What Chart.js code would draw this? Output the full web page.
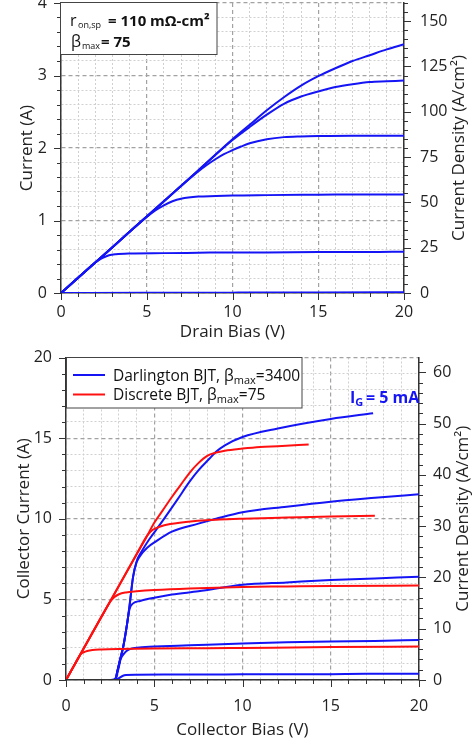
<!DOCTYPE html>
<html><head><meta charset="utf-8">
<script src="https://cdn.jsdelivr.net/npm/chart.js@4.4.1/dist/chart.umd.min.js"></script>
<style>
html,body{margin:0;padding:0;background:#fff;}
#wrap{position:relative;width:475px;height:742px;overflow:hidden;background:#fff;}
.c{position:absolute;left:0;}
canvas{display:block;}
</style></head><body>
<div id="wrap">
<div class="c" style="top:0;width:475px;height:345px"><canvas id="topChart" width="475" height="345" style="width:475px;height:345px"></canvas></div>
<div class="c" style="top:345px;width:475px;height:397px"><canvas id="botChart" width="475" height="397" style="width:475px;height:397px"></canvas></div>
</div>
<script>
// ---------------- DATA: top chart (Current vs Drain Bias) ----------------
const topXMajor  = [0, 5, 10, 15, 20];
const topYMajor  = [0, 1, 2, 3, 4];
const topY2Major = [0, 25, 50, 75, 100, 125, 150];

const drainV0 = [0, 5, 10, 15, 20];
const drainI0 = [0, 0.003, 0.005, 0.008, 0.012];
const drainV1 = [0, 1, 2, 2.4, 2.8, 3.2, 4, 6, 8, 10, 12, 15, 18, 20];
const drainI1 = [0, 0.21, 0.42, 0.48, 0.52, 0.535, 0.545, 0.55, 0.555, 0.56, 0.56, 0.565, 0.565, 0.57];
const drainV2 = [0, 1, 2, 3, 4, 5, 5.5, 6, 6.5, 7, 8, 10, 12, 15, 18, 20];
const drainI2 = [0, 0.21, 0.42, 0.63, 0.845, 1.05, 1.14, 1.21, 1.265, 1.30, 1.33, 1.345, 1.35, 1.355, 1.36, 1.36];
const drainV3 = [0, 2, 4, 6, 7, 8, 8.5, 9, 9.5, 10, 10.5, 11, 12, 13, 14, 15, 17, 20];
const drainI3 = [0, 0.42, 0.845, 1.265, 1.475, 1.675, 1.765, 1.845, 1.915, 1.97, 2.02, 2.065, 2.12, 2.15, 2.16, 2.165, 2.17, 2.17];
const drainV45 = [0, 2, 4, 6, 8, 10, 11, 12, 13, 14, 15, 16, 17, 18, 19, 20];
const drainI4 = [0, 0.42, 0.845, 1.265, 1.69, 2.11, 2.29, 2.46, 2.61, 2.71, 2.78, 2.84, 2.88, 2.91, 2.92, 2.93];
const drainI5 = [0, 0.42, 0.845, 1.265, 1.69, 2.12, 2.32, 2.52, 2.70, 2.86, 2.99, 3.10, 3.20, 3.28, 3.36, 3.43];

// ---------------- DATA: bottom chart (Collector Current vs Collector Bias) ----------------
const botXMajor  = [0, 5, 10, 15, 20];
const botYMajor  = [0, 5, 10, 15, 20];
const botY2Major = [0, 10, 20, 30, 40, 50, 60];

// Darlington BJT (blue)
const darlV0 = [0, 20];
const darlI0 = [0, 0];
const darlV1 = [0, 2.5, 2.8, 3.0, 3.2, 3.4, 4, 6, 10, 15, 17, 20];
const darlI1 = [0, 0, 0.03, 0.12, 0.25, 0.31, 0.33, 0.34, 0.35, 0.36, 0.38, 0.38];
const darlV2 = [0, 2.6, 2.8, 2.95, 3.1, 3.3, 3.5, 3.8, 4.5, 5, 7, 10, 12.5, 15, 17.5, 20];
const darlI2 = [0, 0, 0.1, 0.6, 1.3, 1.65, 1.85, 1.97, 2.04, 2.07, 2.15, 2.27, 2.34, 2.39, 2.42, 2.48];
const darlV3 = [0, 2.8, 2.9, 3.05, 3.25, 3.45, 3.6, 3.8, 4.2, 5, 6, 7.5, 10, 12.5, 15, 17.5, 20];
const darlI3 = [0, 0, 0.5, 1.2, 2.1, 3.4, 4.4, 4.75, 4.9, 5.1, 5.3, 5.5, 5.9, 6.05, 6.2, 6.3, 6.4];
const darlV4 = [0, 2.8, 2.9, 3.05, 3.25, 3.45, 3.6, 3.8, 4.0, 4.2, 4.6, 5.1, 6, 7.5, 8.5, 10, 12.5, 15, 17.5, 20];
const darlI4 = [0, 0, 0.5, 1.2, 2.1, 3.4, 4.6, 6.4, 7.3, 7.7, 8.2, 8.6, 9.2, 9.7, 10.0, 10.4, 10.75, 11.06, 11.3, 11.52];
const darlV5 = [0, 2.8, 2.9, 3.05, 3.25, 3.45, 3.6, 3.8, 4.0, 4.3, 4.7, 5.3, 6.3, 7, 7.5, 8.15, 8.5, 9, 10, 12, 15, 17.4];
const darlI5 = [0, 0, 0.5, 1.2, 2.1, 3.4, 4.6, 6.4, 7.35, 8.0, 8.7, 9.6, 11.17, 12.3, 13.0, 13.75, 14.15, 14.55, 15.07, 15.6, 16.19, 16.54];

// Discrete BJT (red)
const discV0 = [0, 20];
const discI0 = [0, 0];
const discV2 = [0, 0.5, 0.85, 1.0, 1.2, 1.5, 2, 3, 5, 8, 10, 15, 20];
const discI2 = [0, 0.98, 1.62, 1.72, 1.8, 1.86, 1.89, 1.92, 1.95, 1.97, 1.99, 2.04, 2.08];
const discV3 = [0, 1, 2, 2.5, 2.75, 3.0, 3.4, 4, 5, 7, 10, 12.5, 15, 20];
const discI3 = [0, 1.95, 3.9, 4.85, 5.15, 5.32, 5.43, 5.5, 5.58, 5.68, 5.77, 5.8, 5.83, 5.86];
const discV4 = [0, 1, 2, 3, 4, 4.6, 4.9, 5.3, 5.9, 7.2, 8.7, 10, 12.5, 15, 17.5];
const discI4 = [0, 1.95, 3.9, 5.85, 7.8, 8.95, 9.3, 9.5, 9.67, 9.85, 9.95, 10.0, 10.07, 10.14, 10.19];
const discV5 = [0, 1, 2, 3, 4, 4.5, 5.0, 5.5, 6, 6.5, 7, 7.5, 8, 8.5, 9, 10, 11, 12, 13.75];
const discI5 = [0, 1.95, 3.9, 5.85, 7.8, 8.75, 9.75, 10.55, 11.35, 12.1, 12.85, 13.45, 13.9, 14.1, 14.22, 14.35, 14.45, 14.5, 14.6];

// ---------------- helpers ----------------
const FONT = '"Open Sans", "DejaVu Sans", sans-serif';
Chart.defaults.font.family = FONT;
Chart.defaults.font.size = 16;
Chart.defaults.color = '#222';
const BLUE = '#1414f5', RED = '#ff1010';

function near(v, list) { return list.some(m => Math.abs(m - v) < 1e-6); }
function pts(xs, ys) { return xs.map((x, i) => ({ x: x, y: ys[i] })); }
function series(label, xs, ys, color) {
  return { label: label, data: pts(xs, ys), borderColor: color, backgroundColor: color,
    borderWidth: 2, pointRadius: 0, fill: false, cubicInterpolationMode: 'monotone' };
}
function fix(size, horiz) {
  return function (s) {
    if (horiz) s.height = size; else s.width = size;
    s.paddingTop = 0; s.paddingBottom = 0; s.paddingLeft = 0; s.paddingRight = 0;
  };
}
function axis(o) {
  const horiz = o.pos === 'bottom';
  return {
    type: 'linear', position: o.pos, min: o.min, max: o.max,
    afterFit: fix(o.size, horiz),
    ticks: { stepSize: o.step, autoSkip: false, maxRotation: 0, minRotation: 0, includeBounds: false,
      padding: o.pad, font: { size: 16 }, color: '#222',
      callback: function (v) { return near(v, o.majors) ? String(Math.round(v)) : ''; } },
    grid: { display: true, drawOnChartArea: o.grid, drawTicks: false,
      color: function (c) { return c.tick && near(c.tick.value, o.majors) ? '#a2a2a2' : '#d0d0d0'; },
      lineWidth: function (c) { return c.tick && near(c.tick.value, o.majors) ? 1.2 : 1; } },
    border: { display: true, color: '#333', width: 1.5, z: o.borderZ || 0,
      dash: function (c) { return c.tick ? (near(c.tick.value, o.majors) ? [4, 3] : [2, 2]) : []; } },
    title: o.title ? { display: true, text: o.title, font: { size: 17 }, color: '#222', padding: o.titlePad } : { display: false }
  };
}
function runs(ctx, x, y, parts) {
  for (const p of parts) {
    if (p.x !== undefined) x = p.x;
    ctx.font = (p.bold ? 'bold ' : '') + p.size + 'px ' + FONT;
    ctx.fillStyle = p.color || '#111';
    ctx.fillText(p.t, x, y + (p.dy || 0));
    x += ctx.measureText(p.t).width;
  }
}
function decoPlugin(cfg) {
  return {
    id: 'deco_' + cfg.name,
    afterDraw: function (chart) {
      const ctx = chart.ctx, a = chart.chartArea;
      ctx.save();
      ctx.strokeStyle = '#333'; ctx.lineWidth = 1;
      for (const t of cfg.ticks) {
        const s = chart.scales[t.id];
        const n = Math.round((s.max - s.min) / t.minor);
        for (let i = 0; i <= n; i++) {
          const v = s.min + i * t.minor;
          if (v > s.max + 1e-9) break;
          const maj = Math.abs(v / t.major - Math.round(v / t.major)) < 1e-6;
          const L = maj ? 7 : 4;
          const p = Math.round(s.getPixelForValue(v)) + 0.5;
          ctx.beginPath();
          if (t.id === 'x') { ctx.moveTo(p, a.bottom); ctx.lineTo(p, a.bottom + L); }
          else if (t.id === 'y') { ctx.moveTo(a.left, p); ctx.lineTo(a.left - L, p); }
          else { ctx.moveTo(a.right, p); ctx.lineTo(a.right + L, p); }
          ctx.stroke();
        }
      }
      // right-hand axis title (reads bottom to top)
      ctx.save();
      ctx.translate(cfg.rtX, (a.top + a.bottom) / 2);
      ctx.rotate(-Math.PI / 2);
      ctx.font = '17px ' + FONT; ctx.fillStyle = '#222';
      ctx.textAlign = 'center'; ctx.textBaseline = 'middle';
      ctx.fillText('Current Density (A/cm²)', 0, 0);
      ctx.restore();
      ctx.textAlign = 'left'; ctx.textBaseline = 'alphabetic';
      cfg.extra(ctx, a);
      ctx.restore();
    }
  };
}

// ---------------- top chart ----------------
new Chart(document.getElementById('topChart'), {
  type: 'line',
  data: { datasets: [
    series('I0', drainV0, drainI0, BLUE),
    series('I1', drainV1, drainI1, BLUE),
    series('I2', drainV2, drainI2, BLUE),
    series('I3', drainV3, drainI3, BLUE),
    series('I4', drainV45, drainI4, BLUE),
    series('I5', drainV45, drainI5, BLUE)
  ] },
  options: {
    responsive: false, animation: false, events: [], devicePixelRatio: 1,
    layout: { padding: { top: 3, left: 0, right: 0, bottom: 0 } },
    plugins: { legend: { display: false }, tooltip: { enabled: false } },
    scales: {
      x: axis({ pos: 'bottom', min: 0, max: 20, step: 1, majors: topXMajor, size: 52, pad: 10, grid: true,
        title: 'Drain Bias (V)', titlePad: { top: 0, bottom: 3 } }),
      y: axis({ pos: 'left', min: 0, max: 4, step: 0.2, majors: topYMajor, size: 61, pad: 14, grid: true,
        title: 'Current (A)', titlePad: { top: 16.5, bottom: 0 } }),
      y2: axis({ pos: 'right', min: 0, max: 160, step: 25, majors: topY2Major, size: 71, pad: 16, grid: false })
    }
  },
  plugins: [decoPlugin({
    name: 'top', rtX: 459,
    ticks: [{ id: 'x', minor: 1, major: 5 }, { id: 'y', minor: 0.2, major: 1 }, { id: 'y2', minor: 5, major: 25 }],
    extra: function (ctx, a) {
      ctx.fillStyle = '#fff'; ctx.fillRect(60.5, 2.5, 156.5, 52);
      ctx.strokeStyle = '#444'; ctx.lineWidth = 1; ctx.strokeRect(60.5, 2.5, 156.5, 52);
      runs(ctx, 70, 26, [{ t: 'r', size: 16 }, { t: 'on,sp', size: 9, dy: 1.5, x: 78 }, { t: '= 110 mΩ-cm²', size: 15, bold: true, x: 108 }]);
      runs(ctx, 71, 47, [{ t: 'β', size: 16 }, { t: 'max', size: 9, dy: 1.5, x: 82 }, { t: '= 75', size: 15, bold: true, x: 101 }]);
    }
  })]
});

// ---------------- bottom chart ----------------
new Chart(document.getElementById('botChart'), {
  type: 'line',
  data: { datasets: [
    series('Discrete 0', discV0, discI0, RED),
    series('Discrete 2', discV2, discI2, RED),
    series('Discrete 3', discV3, discI3, RED),
    series('Discrete 4', discV4, discI4, RED),
    series('Discrete 5', discV5, discI5, RED),
    series('Darlington 0', darlV0, darlI0, BLUE),
    series('Darlington 1', darlV1, darlI1, BLUE),
    series('Darlington 2', darlV2, darlI2, BLUE),
    series('Darlington 3', darlV3, darlI3, BLUE),
    series('Darlington 4', darlV4, darlI4, BLUE),
    series('Darlington 5', darlV5, darlI5, BLUE)
  ] },
  options: {
    responsive: false, animation: false, events: [], devicePixelRatio: 1,
    layout: { padding: { top: 12.5, left: 0, right: 0, bottom: 0 } },
    plugins: { legend: { display: false }, tooltip: { enabled: false } },
    scales: {
      x: axis({ pos: 'bottom', min: 0, max: 20, step: 1, majors: botXMajor, size: 62, pad: 17, grid: true, borderZ: 1,
        title: 'Collector Bias (V)', titlePad: { top: 0, bottom: 1.5 } }),
      y: axis({ pos: 'left', min: 0, max: 20, step: 1, majors: botYMajor, size: 66, pad: 14, grid: true,
        title: 'Collector Current (A)', titlePad: { top: 14, bottom: 0 } }),
      y2: axis({ pos: 'right', min: 0, max: 62.9, step: 10, majors: botY2Major, size: 56, pad: 14, grid: false })
    }
  },
  plugins: [decoPlugin({
    name: 'bot', rtX: 463,
    ticks: [{ id: 'x', minor: 1, major: 5 }, { id: 'y', minor: 1, major: 5 }, { id: 'y2', minor: 2, major: 10 }],
    extra: function (ctx, a) {
      ctx.fillStyle = '#fff'; ctx.fillRect(66, 12.5, 236, 50.5);
      ctx.strokeStyle = '#444'; ctx.lineWidth = 1; ctx.strokeRect(66.5, 12.5, 235.5, 50.5);
      ctx.lineWidth = 2;
      ctx.strokeStyle = BLUE; ctx.beginPath(); ctx.moveTo(73, 30); ctx.lineTo(105, 30); ctx.stroke();
      ctx.strokeStyle = RED; ctx.beginPath(); ctx.moveTo(73, 49.5); ctx.lineTo(105, 49.5); ctx.stroke();
      runs(ctx, 113, 35.5, [{ t: 'Darlington BJT, β', size: 15.5 }, { t: 'max', size: 11, dy: 3 }, { t: '=3400', size: 15.5 }]);
      runs(ctx, 113, 55, [{ t: 'Discrete BJT, β', size: 15.5 }, { t: 'max', size: 11, dy: 3 }, { t: '=75', size: 15.5 }]);
      runs(ctx, 350, 57.5, [{ t: 'I', size: 16, bold: true, color: BLUE }, { t: 'G', size: 11, bold: true, dy: 3, color: BLUE },
        { t: '= 5 mA', size: 16, bold: true, color: BLUE, x: 366 }]);
    }
  })]
});
</script>
</body></html>
